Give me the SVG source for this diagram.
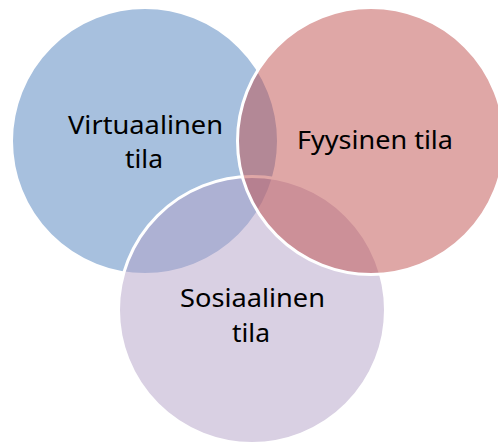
<svg xmlns="http://www.w3.org/2000/svg" width="498" height="445" viewBox="0 0 498 445">
  <style>
    .set { stroke: #ffffff; stroke-width: 3; fill-opacity: 0.5; }
    .label { font-family: "Noto Sans", "Open Sans", sans-serif; font-size: 25px; fill: #000000; text-anchor: middle; }
  </style>
  <rect width="498" height="445" fill="#ffffff"/>
  <g id="connectors"/>
  <!-- Venn sets: blue at the back, purple in the middle, red on top -->
  <g id="virtual">
    <circle class="set" cx="145" cy="141" r="133.5" fill="#4F81BD"/>
  </g>
  <g id="social">
    <circle class="set" cx="252" cy="310" r="133.5" fill="#B3A2C7"/>
  </g>
  <g id="physical">
    <circle class="set" cx="371" cy="141" r="133.5" fill="#C0504D"/>
  </g>
  <!-- Labels drawn last so they stay above every set -->
  <g id="labels">
    <text class="label" x="145.5" y="134.3" textLength="155" lengthAdjust="spacingAndGlyphs">Virtuaalinen</text>
    <text class="label" x="144" y="168.3" textLength="38" lengthAdjust="spacingAndGlyphs">tila</text>
    <text class="label" x="375" y="149.3" textLength="156" lengthAdjust="spacingAndGlyphs">Fyysinen tila</text>
    <text class="label" x="252.5" y="306.7" textLength="145" lengthAdjust="spacingAndGlyphs">Sosiaalinen</text>
    <text class="label" x="251" y="341.7" textLength="38" lengthAdjust="spacingAndGlyphs">tila</text>
  </g>
</svg>
